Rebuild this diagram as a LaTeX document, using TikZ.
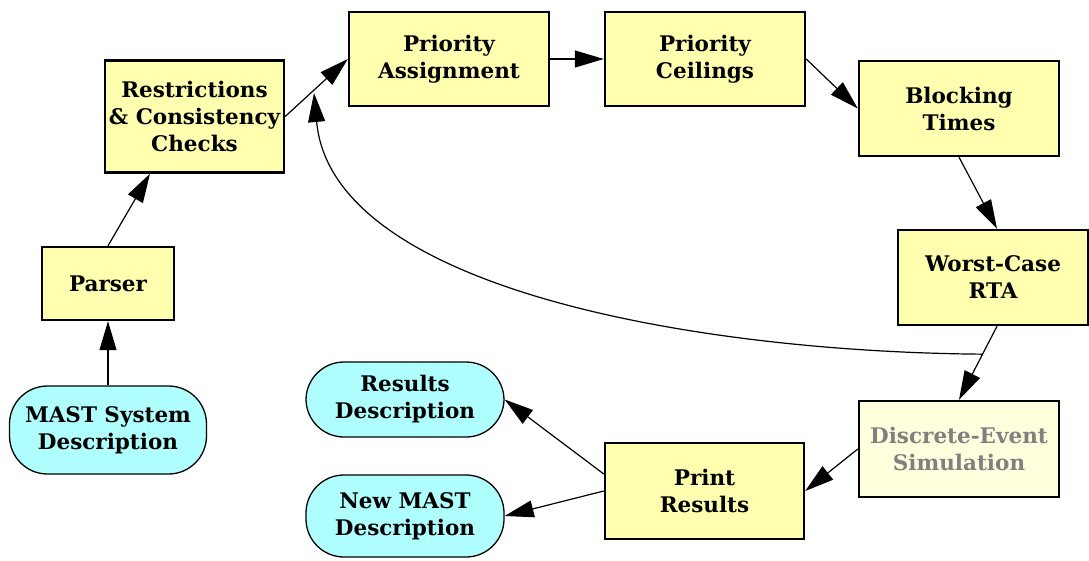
\documentclass[tikz,border=0pt]{standalone}
\usepackage{fontspec}
\setmainfont{DejaVu Serif}
\usetikzlibrary{arrows.meta,calc}
\definecolor{boxyellow}{RGB}{255,255,176}
\definecolor{paleyellow}{RGB}{255,255,222}
\definecolor{desccyan}{RGB}{176,255,255}
\definecolor{dimtext}{RGB}{128,128,128}
\tikzset{
  label font/.style={font=\fontsize{21.5}{27}\selectfont\bfseries},
  stage/.style={draw, line width=2.4pt, fill=boxyellow, label font,
    align=center, inner sep=0pt},
  dimstage/.style={stage, fill=paleyellow, text=dimtext},
  datafile/.style={draw, line width=1.3pt, fill=desccyan, label font,
    align=center, inner sep=0pt, rounded corners=38pt},
  flow/.style={line width=1.2pt, -{Triangle[length=29pt,width=17pt]}},
}
\begin{document}
\begin{tikzpicture}[x=1pt,y=-1pt]
\useasboundingbox (0,0) rectangle (1089,561);

% analysis stages
\node[stage, minimum width=179pt, minimum height=112pt] (rc) at (194.5,116.5)
  {Restrictions\\\& Consistency\\Checks};
\node[stage, minimum width=132pt, minimum height=73pt] (parser) at (108,283.5)
  {Parser};
\node[stage, minimum width=200pt, minimum height=94pt] (pa) at (449,59)
  {Priority\\Assignment};
\node[stage, minimum width=200pt, minimum height=94pt] (pc) at (705,59)
  {Priority\\Ceilings};
\node[stage, minimum width=200pt, minimum height=95pt] (bt) at (959,108.5)
  {Blocking\\Times};
\node[stage, minimum width=190pt, minimum height=95pt] (rta) at (993,277.5)
  {Worst-Case\\RTA};
\node[dimstage, minimum width=200pt, minimum height=96pt] (des) at (959,449)
  {Discrete-Event\\Simulation};
\node[stage, minimum width=199pt, minimum height=96pt] (print) at (704.5,491)
  {Print\\Results};

% input and output descriptions
\node[datafile, minimum width=197pt, minimum height=88pt] (mast) at (108,430)
  {MAST System\\Description};
\node[datafile, minimum width=198pt, minimum height=75pt] (resdesc) at (405,399.5)
  {Results\\Description};
\node[datafile, minimum width=198pt, minimum height=82pt] (newmast) at (405,516)
  {New MAST\\Description};

% main tool chain
\draw[flow] (mast.north) -- (parser.south);
\draw[flow] (parser.north) -- ([xshift=-44.5pt]rc.south);
\draw[flow] (rc.east) -- (pa.west);
\draw[flow] (pa.east) -- (pc.west);
\draw[flow] (pc.east) -- (bt.west);
\draw[flow] (bt.south) -- ([xshift=4pt]rta.north);
\draw[flow] ([xshift=4pt]rta.south) -- (des.north);
\draw[flow] (des.west) -- (print.east);
\draw[flow] ([yshift=17pt]print.west) -- (resdesc.east);
\draw[flow] (print.west) -- (newmast.east);

% feedback loop back to priority assignment
\coordinate (fb) at ($([xshift=4pt]rta.south)!0.38!(des.north)$);
\coordinate (fbtip) at (314,93);
\draw[flow] (fb) .. controls (700,352) and (332,290) .. (fbtip);
\end{tikzpicture}
\end{document}
